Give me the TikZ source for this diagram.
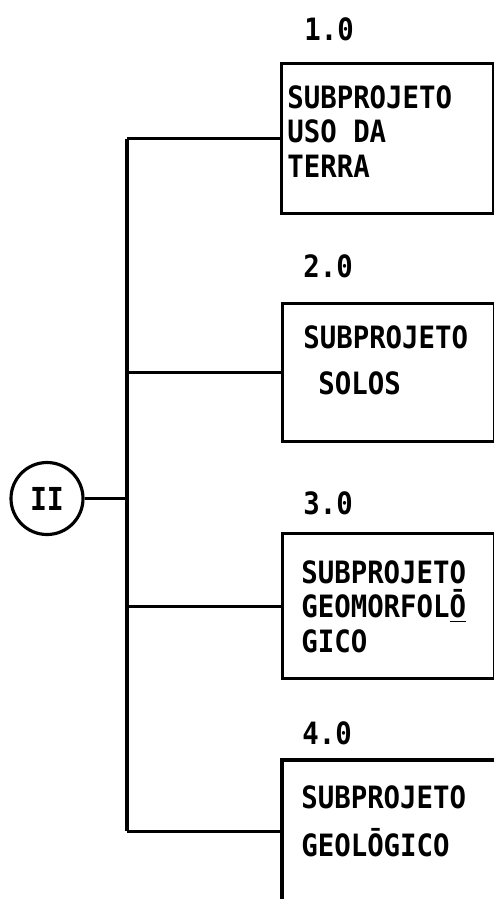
\documentclass[tikz,border=0pt]{standalone}
\usepackage{fontspec}
\usepackage{tikz}
\usetikzlibrary{positioning}
\newfontfamily\boxfont[FakeStretch=0.89]{DejaVu Sans Mono Bold}

\begin{document}
\begin{tikzpicture}[
    frame/.style={rectangle, draw, line width=1.8pt, minimum width=4.24cm, inner sep=0pt, anchor=north west},
    txt/.style={inner sep=0pt, align=left, font=\boxfont\fontsize{17.5}{19.8}\selectfont},
    num/.style={inner sep=0pt, font=\boxfont\fontsize{17.5}{20}\selectfont},
    phase/.style={circle, draw, line width=1.8pt, minimum size=1.44cm, inner sep=0pt, font=\boxfont\fontsize{18}{20}\selectfont},
    branch/.style={draw, line width=1.8pt}
]
\useasboundingbox (0,0) rectangle (9.88,-17.98);

% subprojects
\node[frame, minimum height=3.00cm] (b1) at (5.60,-1.24) {};
\node[frame, minimum height=2.76cm] (b2) at (5.62,-6.04) {};
\node[frame, minimum height=2.90cm] (b3) at (5.62,-10.64) {};
\node[frame, draw=none, minimum height=2.78cm] (b4) at (5.64,-15.20) {};
\draw[line width=1.8pt] (b4.south west) -- (b4.north west) -- (b4.north east);

\node[txt, below right=0.46cm and 0.14cm of b1.north west] (t1) {SUBPROJETO\\USO DA\\TERRA};
\node[txt, below right=0.46cm and 0.44cm of b2.north west] (t2) {SUBPROJETO\\[6.5pt]\hspace*{0.3cm}SOLOS};
\node[txt, below right=0.56cm and 0.40cm of b3.north west] (t3) {SUBPROJETO\\GEOMORFOL\underline{Ō}\\GICO};
\node[txt, below right=0.50cm and 0.38cm of b4.north west] (t4) {SUBPROJETO\\[7.5pt]GEOLŌGICO};

\node[num, above right=0.42cm and 0.48cm of b1.north west] (n1) {1.0};
\node[num, above right=0.48cm and 0.44cm of b2.north west] (n2) {2.0};
\node[num, above right=0.34cm and 0.44cm of b3.north west] (n3) {3.0};
\node[num, above right=0.30cm and 0.40cm of b4.north west] (n4) {4.0};

% phase and trunk
\node[phase] (ph) at (0.94,-9.97) {II};
\coordinate (trunk) at (2.54,-9.97);
\draw[branch] (ph) -- (trunk);
\draw[branch] (trunk |- b1.west) -- (trunk |- b4.west);
\foreach \b in {b1,b2,b3,b4}
    \draw[branch] (trunk |- \b.west) -- (\b.west);
\end{tikzpicture}
\end{document}
